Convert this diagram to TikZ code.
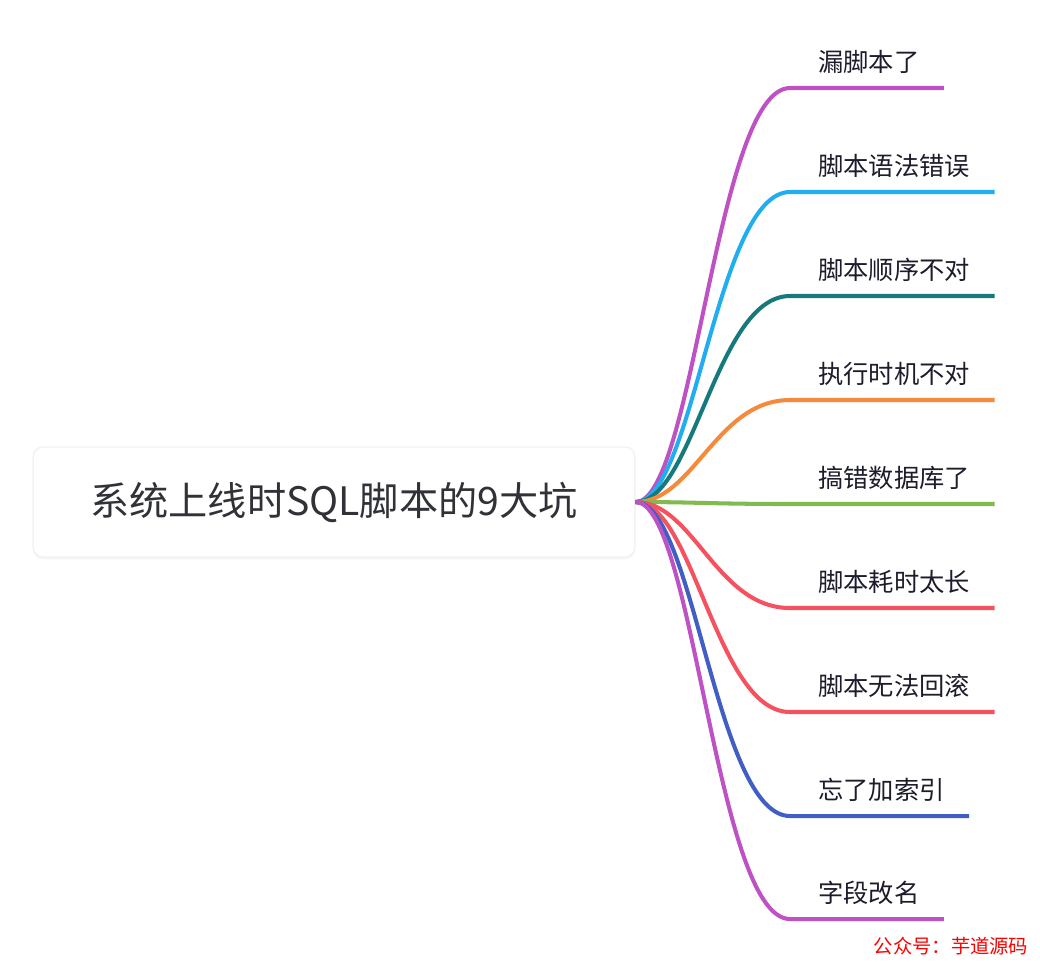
\documentclass[tikz,border=0pt]{standalone}
\usepackage{fontspec}
\setmainfont{Noto Sans CJK SC}
\usepackage{xcolor}
\usetikzlibrary{positioning, calc, shadows}
\definecolor{rootink}{RGB}{48,50,56}
\definecolor{labelink}{RGB}{28,28,44}
\definecolor{brmagenta}{RGB}{190,82,196}
\definecolor{brsky}{RGB}{32,174,240}
\definecolor{brteal}{RGB}{22,122,125}
\definecolor{brorange}{RGB}{245,137,60}
\definecolor{brgreen}{RGB}{130,186,80}
\definecolor{brred}{RGB}{245,82,95}
\definecolor{brblue}{RGB}{64,94,196}
\tikzset{
  rootbox/.style={
    rectangle, rounded corners=5.7pt,
    minimum width=12.04cm, minimum height=2.2cm,
    fill=white, draw=black!5, line width=0.8pt,
    text=rootink, font=\fontsize{22.3}{26}\selectfont,
    drop shadow={opacity=0.08, shadow xshift=0pt, shadow yshift=-1.4pt}
  },
  branchlabel/.style={anchor=west, inner sep=0pt, text=labelink,
    font=\fontsize{14.4}{17}\selectfont},
  branchline/.style={line width=2.3pt},
  watermark/.style={text=red, font=\fontsize{11}{13}\selectfont}
}
\begin{document}
\begin{tikzpicture}[x=0.02cm, y=-0.02cm]
  \useasboundingbox (0,0) rectangle (1040,968);

  % Draw root
  \node[rootbox] (root) at (334,502) {系统上线时SQL脚本的9大坑};

  % Draw branches
  \foreach \i/\yy/\col/\txt in {
      1/88/brmagenta/漏脚本了,
      2/192/brsky/脚本语法错误,
      3/296/brteal/脚本顺序不对,
      4/400/brorange/执行时机不对,
      5/504/brgreen/搞错数据库了,
      6/608/brred/脚本耗时太长,
      7/712/brred/脚本无法回滚,
      8/816/brblue/忘了加索引,
      9/919/brmagenta/字段改名} {
    \node[branchlabel] (l\i) at (818,\yy-26) {\txt};
    \coordinate (s\i) at (790,\yy);
    \path (l\i.east) ++(24,26) coordinate (e\i);
    \draw[branchline, \col] (root.east) .. controls +(58,0) and +(-74,0) .. (s\i) -- (e\i);
  }

  % Draw watermark
  \node[watermark] (mark) at (951,946) {公众号：芋道源码};
\end{tikzpicture}
\end{document}
